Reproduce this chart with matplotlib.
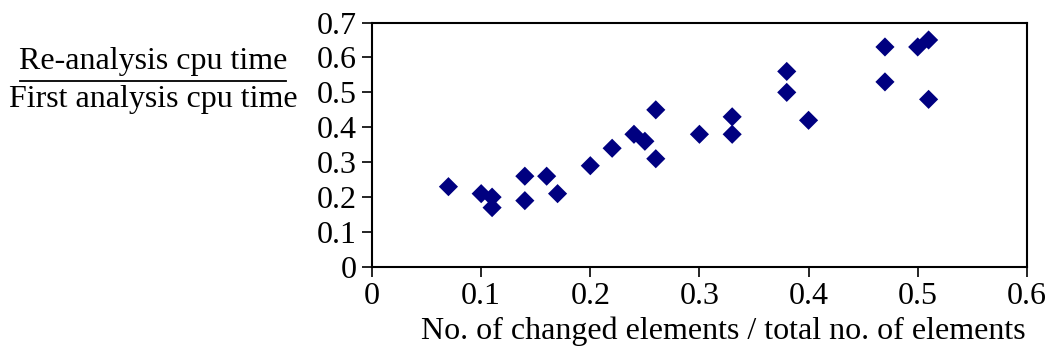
#!/usr/bin/env python3
"""Re-analysis cpu time ratio vs fraction of changed elements."""

import matplotlib
matplotlib.use("Agg")
import matplotlib.pyplot as plt
from matplotlib.lines import Line2D

# fraction of changed elements
changed_frac = [0.07, 0.10, 0.11, 0.11, 0.14, 0.14, 0.16, 0.17, 0.20, 0.22,
                0.24, 0.25, 0.26, 0.26, 0.30, 0.33, 0.33, 0.38, 0.38, 0.40,
                0.47, 0.47, 0.50, 0.51, 0.51]
# re-analysis / first analysis cpu time
time_ratio = [0.23, 0.21, 0.20, 0.17, 0.26, 0.19, 0.26, 0.21, 0.29, 0.34,
              0.38, 0.36, 0.45, 0.31, 0.38, 0.43, 0.38, 0.56, 0.50, 0.42,
              0.63, 0.53, 0.63, 0.65, 0.48]

xticks = [0, 0.1, 0.2, 0.3, 0.4, 0.5, 0.6]
xtick_labels = ["0", "0.1", "0.2", "0.3", "0.4", "0.5", "0.6"]
yticks = [0, 0.1, 0.2, 0.3, 0.4, 0.5, 0.6, 0.7]
ytick_labels = ["0", "0.1", "0.2", "0.3", "0.4", "0.5", "0.6", "0.7"]

plt.rcParams.update({
    'font.family': ['Liberation Serif', 'DejaVu Serif'],
    'font.size': 23,
})

fig = plt.figure(figsize=(10.51, 3.52), dpi=100)
ax = fig.add_axes([0.354, 0.2415, 0.623, 0.6945])

ax.scatter(changed_frac, time_ratio, marker='D', s=95, color='#000080',
           edgecolors='none', zorder=3)

ax.set_xlim(0, 0.6)
ax.set_ylim(0, 0.7)
ax.set_xticks(xticks)
ax.set_xticklabels(xtick_labels)
ax.set_yticks(yticks)
ax.set_yticklabels(ytick_labels)
ax.tick_params(direction='out', length=7, width=1.2, pad=4)
for sp in ax.spines.values():
    sp.set_linewidth(1.5)

ax.set_xlabel("No. of changed elements / total no. of elements",
              x=0.537, labelpad=4)

# fraction-style y label
fig.text(0.1455, 0.826, "Re-analysis cpu time", ha='center', va='center')
fig.text(0.1455, 0.716, "First analysis cpu time", ha='center', va='center')
fig.add_artist(Line2D([0.019, 0.272], [0.77, 0.77], color='black', lw=1.3,
                      transform=fig.transFigure))

fig.savefig("out.png", dpi=100)
plt.close(fig)
